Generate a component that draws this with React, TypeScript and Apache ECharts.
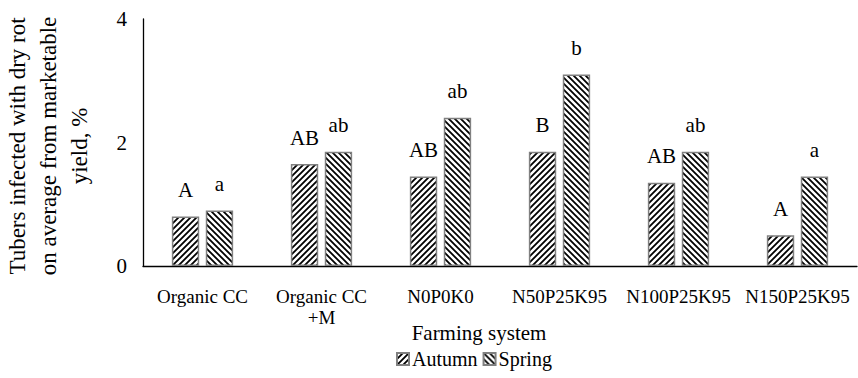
import React, { useEffect, useRef } from "react";
import * as echarts from "echarts";

const categories = ["Organic CC", "Organic CC\n+M", "N0P0K0", "N50P25K95", "N100P25K95", "N150P25K95"];
const autumnValues = [0.8, 1.65, 1.45, 1.85, 1.35, 0.5];
const springValues = [0.9, 1.85, 2.4, 3.1, 1.85, 1.45];
const autumnLetters = ["A", "AB", "AB", "B", "AB", "A"];
const springLetters = ["a", "ab", "ab", "b", "ab", "a"];
const yTicks = { min: 0, max: 4, interval: 2 };

const FONT = "Liberation Serif";

// Diagonal hatch tile: dir 1 draws "/" lines, dir -1 draws "\" lines
function hatch(dir: number): HTMLCanvasElement {
  const s = 6;
  const c = document.createElement("canvas");
  c.width = s;
  c.height = s;
  const ctx = c.getContext("2d")!;
  ctx.fillStyle = "#ffffff";
  ctx.fillRect(0, 0, s, s);
  ctx.strokeStyle = "#000000";
  ctx.lineWidth = 1.8;
  ctx.beginPath();
  if (dir > 0) {
    ctx.moveTo(-1, s + 1);
    ctx.lineTo(s + 1, -1);
    ctx.moveTo(-1, 1);
    ctx.lineTo(1, -1);
    ctx.moveTo(s - 1, s + 1);
    ctx.lineTo(s + 1, s - 1);
  } else {
    ctx.moveTo(-1, -1);
    ctx.lineTo(s + 1, s + 1);
    ctx.moveTo(s - 1, -1);
    ctx.lineTo(s + 1, 1);
    ctx.moveTo(-1, s - 1);
    ctx.lineTo(1, s + 1);
  }
  ctx.stroke();
  return c;
}

export default function App() {
  const ref = useRef<HTMLDivElement>(null);

  useEffect(() => {
    document.body.style.margin = "0";
    const chart = echarts.init(ref.current!, null, { renderer: "svg" });
    const autumnFill = { image: hatch(1), repeat: "repeat" };
    const springFill = { image: hatch(-1), repeat: "repeat" };

    const labelStyle = {
      show: true,
      position: "top" as const,
      distance: 16,
      color: "#000",
      fontFamily: FONT,
      fontSize: 21,
    };

    chart.setOption({
      animation: false,
      backgroundColor: "#ffffff",
      textStyle: { fontFamily: FONT, color: "#000" },
      grid: { left: 143, right: 1, top: 19, bottom: 112, containLabel: false },
      legend: {
        left: 391,
        top: 344,
        itemWidth: 12,
        itemHeight: 12,
        itemGap: 5,
        icon: "rect",
        textStyle: { fontFamily: FONT, fontSize: 20, color: "#000", padding: [0, 0, 0, -2] },
        data: ["Autumn", "Spring"],
      },
      xAxis: {
        type: "category",
        data: categories,
        axisLine: { show: true, lineStyle: { color: "#000", width: 1.3 } },
        axisTick: { show: false },
        axisLabel: {
          interval: 0,
          color: "#000",
          fontFamily: FONT,
          fontSize: 19,
          margin: 20,
          lineHeight: 21,
        },
      },
      yAxis: {
        type: "value",
        min: yTicks.min,
        max: yTicks.max,
        interval: yTicks.interval,
        axisLine: { show: true, lineStyle: { color: "#000", width: 1.3 } },
        axisTick: { show: false },
        splitLine: { show: false },
        axisLabel: { color: "#000", fontFamily: FONT, fontSize: 21, margin: 16 },
      },
      graphic: [
        {
          type: "text",
          x: 48,
          y: 146,
          rotation: Math.PI / 2,
          style: {
            text: "Tubers infected with dry rot\non average from marketable\nyield, %",
            font: "23px 'Liberation Serif'",
            lineHeight: 31,
            fill: "#000",
            align: "center",
            verticalAlign: "middle",
          },
        },
        {
          type: "text",
          x: 479,
          y: 333,
          style: {
            text: "Farming system",
            font: "21px 'Liberation Serif'",
            fill: "#000",
            align: "center",
            verticalAlign: "middle",
          },
        },
      ],
      series: [
        {
          name: "Autumn",
          type: "bar",
          data: autumnValues,
          barWidth: "23%",
          barGap: "24%",
          itemStyle: { color: autumnFill, borderColor: "#808080", borderWidth: 1.5 },
          label: { ...labelStyle, formatter: (p: any) => autumnLetters[p.dataIndex] },
        },
        {
          name: "Spring",
          type: "bar",
          data: springValues,
          barWidth: "23%",
          itemStyle: { color: springFill, borderColor: "#808080", borderWidth: 1.5 },
          label: { ...labelStyle, formatter: (p: any) => springLetters[p.dataIndex] },
        },
      ],
    });
    return () => chart.dispose();
  }, []);

  return <div ref={ref} style={{ width: 858, height: 378 }} />;
}
